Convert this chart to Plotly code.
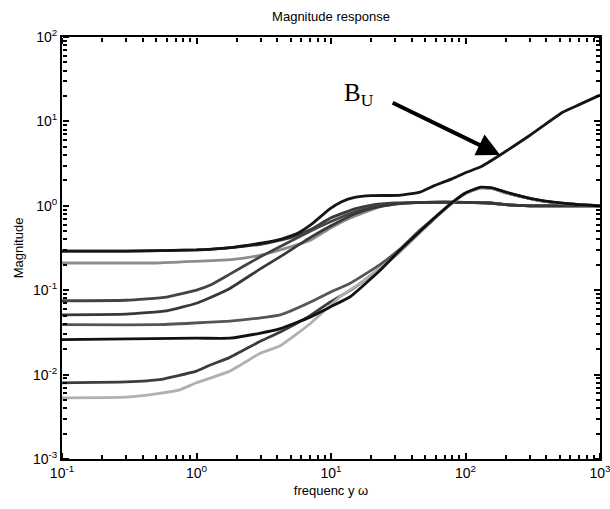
import numpy as np
import plotly.graph_objects as go

# ---- data ----
bu_w = [0.1, 0.3, 1, 1.8, 3, 4.2, 5.6, 7.3, 9.8, 12, 15, 20, 32, 46, 57, 80, 102, 130, 181, 300, 531, 700, 1000]
bu_m = [0.29, 0.29, 0.30, 0.32, 0.36, 0.40, 0.47, 0.62, 0.92, 1.12, 1.26, 1.32, 1.33, 1.45, 1.7, 2.1, 2.5, 2.9, 4.0, 6.8, 12.9, 15.8, 20.5]

a_w = [0.1, 0.3, 1, 1.8, 3, 5, 7, 10, 15, 20, 30, 50, 100, 150, 200, 300, 1000]
a_m = [0.29, 0.29, 0.30, 0.32, 0.35, 0.42, 0.52, 0.72, 0.92, 1.02, 1.08, 1.1, 1.1, 1.08, 1.03, 1.0, 1.0]

b_w = [0.1, 0.5, 1, 1.8, 3, 4.2, 7, 10, 14, 23, 35, 50, 100, 150, 200, 300, 1000]
b_m = [0.21, 0.21, 0.22, 0.23, 0.26, 0.30, 0.39, 0.55, 0.72, 0.97, 1.08, 1.1, 1.1, 1.08, 1.03, 1.0, 1.0]

c_w = [0.1, 0.3, 0.6, 1, 1.27, 1.77, 3, 5, 7, 10, 15, 20, 30, 50, 100, 150, 200, 300, 1000]
c_m = [0.075, 0.076, 0.083, 0.10, 0.115, 0.155, 0.25, 0.38, 0.50, 0.65, 0.85, 0.97, 1.06, 1.1, 1.1, 1.08, 1.03, 1.0, 1.0]

d_w = [0.1, 0.3, 0.6, 1, 1.27, 1.77, 3, 4.2, 7, 10, 15, 20, 30, 50, 100, 150, 200, 300, 1000]
d_m = [0.051, 0.052, 0.057, 0.070, 0.082, 0.105, 0.18, 0.25, 0.42, 0.58, 0.80, 0.93, 1.05, 1.1, 1.1, 1.08, 1.03, 1.0, 1.0]

e_w = [0.1, 0.5, 1, 1.77, 3, 4.2, 7, 9.8, 13.8, 23, 32, 46, 60, 80, 100, 130, 160, 200, 340, 600, 1000]
e_m = [0.039, 0.039, 0.041, 0.043, 0.047, 0.051, 0.072, 0.094, 0.12, 0.20, 0.30, 0.52, 0.74, 1.1, 1.42, 1.63, 1.60, 1.42, 1.17, 1.05, 1.0]

f_w = [0.1, 1, 1.77, 3, 4.2, 7, 9.8, 13.8, 23, 32, 46, 60, 80, 100, 130, 160, 200, 340, 600, 1000]
f_m = [0.026, 0.027, 0.027, 0.031, 0.035, 0.048, 0.063, 0.083, 0.17, 0.29, 0.50, 0.74, 1.1, 1.42, 1.66, 1.62, 1.45, 1.18, 1.05, 1.0]

g_w = [0.1, 0.3, 0.53, 1, 1.27, 1.77, 3, 4.2, 7, 9.8, 14, 23, 32, 46, 60, 80, 100, 130, 160, 200, 340, 600, 1000]
g_m = [0.008, 0.0082, 0.0087, 0.011, 0.013, 0.016, 0.025, 0.032, 0.05, 0.072, 0.10, 0.18, 0.28, 0.49, 0.73, 1.09, 1.40, 1.64, 1.61, 1.43, 1.17, 1.05, 1.0]

h_w = [0.1, 0.3, 0.53, 0.75, 1, 1.77, 3, 4.2, 7, 11.6, 16.4, 23, 32, 46, 60, 80, 100, 130, 160, 200, 340, 600, 1000]
h_m = [0.0053, 0.0054, 0.006, 0.0066, 0.008, 0.011, 0.018, 0.022, 0.04, 0.083, 0.12, 0.18, 0.28, 0.48, 0.72, 1.08, 1.40, 1.63, 1.60, 1.42, 1.17, 1.05, 1.0]

x_ticks = [0.1, 1, 10, 100, 1000]
x_labels = ["10<sup>-1</sup>", "10<sup>0</sup>", "10<sup>1</sup>", "10<sup>2</sup>", "10<sup>3</sup>"]
y_ticks = [0.001, 0.01, 0.1, 1, 10, 100]
y_labels = ["10<sup>-3</sup>", "10<sup>-2</sup>", "10<sup>-1</sup>", "10<sup>0</sup>", "10<sup>1</sup>", "10<sup>2</sup>"]

series = [
    ("A", a_w, a_m, "#3a3a3a"),
    ("B", b_w, b_m, "#8c8c8c"),
    ("C", c_w, c_m, "#444444"),
    ("D", d_w, d_m, "#383838"),
    ("E", e_w, e_m, "#555555"),
    ("G", g_w, g_m, "#3c3c3c"),
    ("H", h_w, h_m, "#b0b0b0"),
    ("F", f_w, f_m, "#111111"),
    ("B_U", bu_w, bu_m, "#151515"),
]

x_minor = [m * 10.0 ** k for k in range(-1, 3) for m in range(2, 10)]
y_minor = [m * 10.0 ** k for k in range(-3, 2) for m in range(2, 10)]

fig = go.Figure()
for name, w, m, col in series:
    fig.add_trace(go.Scatter(x=w, y=m, mode="lines", name=name,
                             line=dict(color=col, width=2.8, shape="spline", smoothing=0.4),
                             showlegend=False))

# invisible carrier traces for the tick-only overlay axes
for k in (2, 3, 4, 5):
    fig.add_trace(go.Scatter(x=bu_w, y=bu_m, xaxis="x%d" % k, yaxis="y%d" % k, mode="lines",
                             line=dict(width=0), opacity=0, hoverinfo="skip", showlegend=False))

fam = "Liberation Sans, Arial, Helvetica"
tickfont = dict(family=fam, size=14, color="black")

main = dict(type="log", showgrid=False, zeroline=False, showline=True,
            linecolor="black", linewidth=2, mirror=True, ticks="",
            tickfont=tickfont, ticklabeloverflow="allow")


def tick_axis(rng, vals, side, pos, length, over):
    # outside ticks of an axis placed on the opposite edge point into the plot
    return dict(type="log", range=rng, tickmode="array", tickvals=vals,
                overlaying=over, side=side, anchor="free", position=pos,
                showgrid=False, zeroline=False, showline=False, showticklabels=False,
                ticks="outside", ticklen=length, tickwidth=2, tickcolor="black")


fig.update_layout(
    template="none",
    width=610, height=509,
    margin=dict(l=62, r=10, t=37, b=50, autoexpand=False),
    plot_bgcolor="white", paper_bgcolor="white",
    font=dict(family=fam, size=13, color="black"),
    showlegend=False,
    xaxis=dict(range=[-1, 3], tickvals=x_ticks, ticktext=x_labels,
               title=dict(text="frequenc y ω", font=dict(size=13, family=fam, color="black"), standoff=6),
               **main),
    yaxis=dict(range=[-3, 2], tickvals=y_ticks, ticktext=y_labels,
               title=dict(text="Magnitude", font=dict(size=13, family=fam, color="black"), standoff=6),
               **main),
    # major ticks: bottom / top / left / right
    xaxis2=tick_axis([-1, 3], x_ticks, "top", 0, 6, "x"),
    xaxis3=tick_axis([-1, 3], x_ticks, "bottom", 1, 6, "x"),
    yaxis2=tick_axis([-3, 2], y_ticks, "right", 0, 6, "y"),
    yaxis3=tick_axis([-3, 2], y_ticks, "left", 1, 6, "y"),
    # minor ticks
    xaxis4=tick_axis([-1, 3], x_minor, "top", 0, 4, "x"),
    xaxis5=tick_axis([-1, 3], x_minor, "bottom", 1, 4, "x"),
    yaxis4=tick_axis([-3, 2], y_minor, "right", 0, 4, "y"),
    yaxis5=tick_axis([-3, 2], y_minor, "left", 1, 4, "y"),
    title=dict(text="Magnitude response", x=0.5, xref="paper", xanchor="center",
               y=1 - 16 / 509, yref="container", yanchor="middle",
               font=dict(size=13, family=fam, color="black")),
)

# arrow to B_U curve
i = bu_w.index(181)
fig.add_annotation(x=np.log10(bu_w[i]), y=np.log10(bu_m[i]), xref="x", yref="y",
                   text="", showarrow=True, arrowhead=2, arrowsize=1.15, arrowwidth=4,
                   arrowcolor="black", ax=-109, ay=-53, standoff=0)
fig.add_annotation(x=np.log10(bu_w[i]), y=np.log10(bu_m[i]), xref="x", yref="y",
                   text="B<sub>U</sub>", showarrow=False, xshift=-141, yshift=60,
                   font=dict(family="Liberation Serif, Times New Roman", size=25, color="black"))

fig.write_html("out.html")
